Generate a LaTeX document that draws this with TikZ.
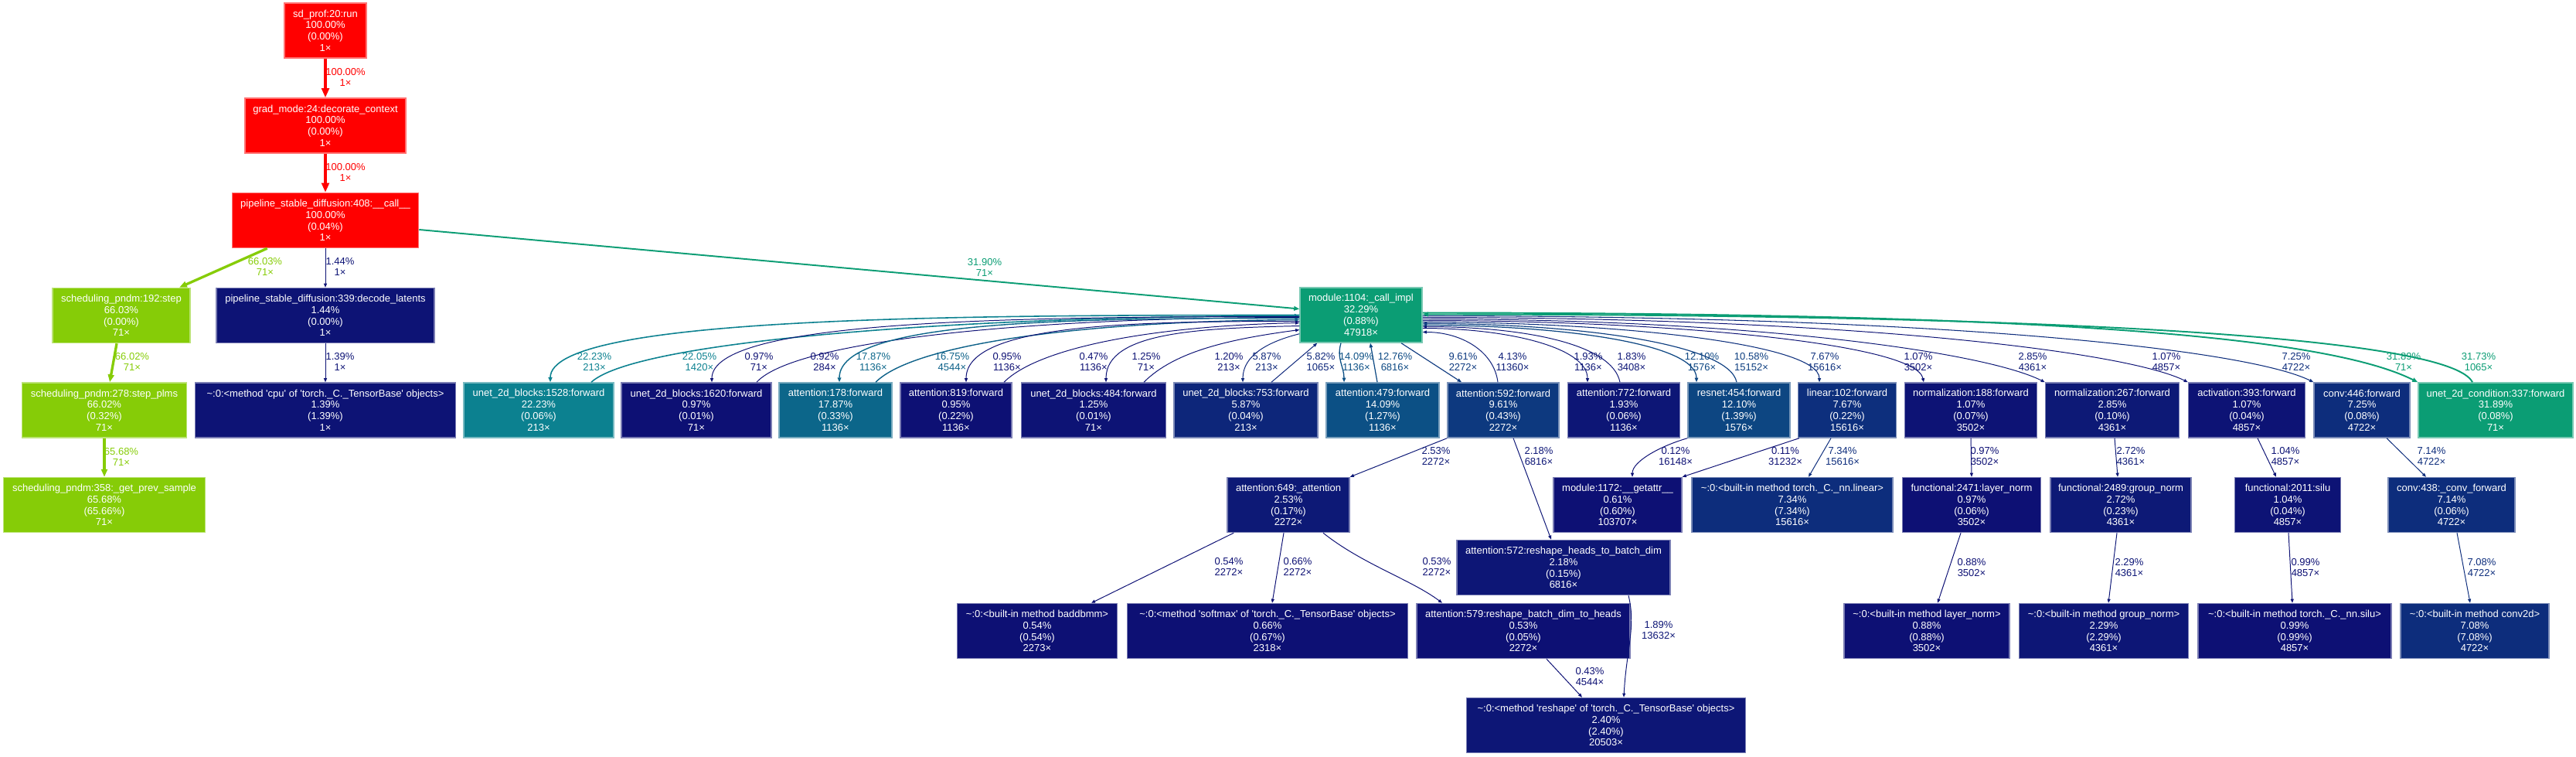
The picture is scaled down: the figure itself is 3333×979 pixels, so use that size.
\documentclass[tikz,border=0pt]{standalone}
\usepackage{fontspec}
\setmainfont{Liberation Sans}
\usetikzlibrary{arrows.meta,calc}

\definecolor{pct100}{HTML}{FF0000}
\definecolor{pct66}{HTML}{86CC07}
\definecolor{pct32}{HTML}{0B9D74}
\definecolor{pct22}{HTML}{0C8190}
\definecolor{pct18}{HTML}{0C668A}
\definecolor{pct17}{HTML}{0C6088}
\definecolor{pct14}{HTML}{0C5085}
\definecolor{pct13}{HTML}{0D4983}
\definecolor{pct12}{HTML}{0D4682}
\definecolor{pct11}{HTML}{0D3E80}
\definecolor{pct10}{HTML}{0D397F}
\definecolor{pct8}{HTML}{0D2F7D}
\definecolor{pct7}{HTML}{0D2D7C}
\definecolor{pct6}{HTML}{0D267A}
\definecolor{pct4}{HTML}{0D1E78}
\definecolor{pct3}{HTML}{0D1976}
\definecolor{pct2}{HTML}{0D1676}
\definecolor{pct1}{HTML}{0D1375}
\definecolor{pct0}{HTML}{0D1074}

\newcommand{\gfont}{\fontsize{3.7}{4.2}\selectfont}
\newcommand{\squote}{\textquotesingle}

\begin{document}
\begin{tikzpicture}[
  x=0.01cm, y=-0.01cm,
  fn/.style={
    fill=#1, draw=#1!55!white, line width=0.4pt,
    text=white, font=\gfont, align=center,
    minimum height=0.71cm, inner xsep=2pt, inner ysep=0pt},
  lbl/.style={text=#1, font=\gfont, align=center, inner sep=0pt},
  call/.style={draw=#1, line width=0.28pt,
    -{Triangle[length=0.9pt 2, width=0.7pt 1.6]}},
]
  \useasboundingbox (0,0) rectangle (3333,979);

  % left column
  \node[fn=pct100, minimum width=1.06cm] (sd) at (421,39.5) {sd\_prof:20:run\\100.00\%\\(0.00\%)\\1×};
  \node[fn=pct100, minimum width=2.08cm] (grad) at (421,162.5) {grad\_mode:24:decorate\_context\\100.00\%\\(0.00\%)\\1×};
  \node[fn=pct100, minimum width=2.41cm] (pipe) at (421,285) {pipeline\_stable\_diffusion:408:\_\_call\_\_\\100.00\%\\(0.04\%)\\1×};
  \node[fn=pct66, minimum width=1.78cm] (step) at (157,408) {scheduling\_pndm:192:step\\66.03\%\\(0.00\%)\\71×};
  \node[fn=pct1, minimum width=2.82cm] (decode) at (421,408) {pipeline\_stable\_diffusion:339:decode\_latents\\1.44\%\\(0.00\%)\\1×};
  \node[fn=pct66, minimum width=2.13cm] (plms) at (135,530.5) {scheduling\_pndm:278:step\_plms\\66.02\%\\(0.32\%)\\71×};
  \node[fn=pct1, minimum width=3.37cm] (cpu) at (421,530.5) {\textasciitilde:0:<method \squote cpu\squote{} of \squote torch.\_C.\_TensorBase\squote{} objects>\\1.39\%\\(1.39\%)\\1×};
  \node[fn=pct66, minimum width=2.61cm] (prev) at (135,653) {scheduling\_pndm:358:\_get\_prev\_sample\\65.68\%\\(65.66\%)\\71×};

  % hub
  \node[fn=pct32, minimum width=1.58cm] (module) at (1761,407.5) {module:1104:\_call\_impl\\32.29\%\\(0.88\%)\\47918×};

  % forward row
  \node[fn=pct22, minimum width=1.94cm] (u1528) at (697,530.5) {unet\_2d\_blocks:1528:forward\\22.23\%\\(0.06\%)\\213×};
  \node[fn=pct0, minimum width=1.94cm] (u1620) at (901,530.5) {unet\_2d\_blocks:1620:forward\\0.97\%\\(0.01\%)\\71×};
  \node[fn=pct18, minimum width=1.46cm] (a178) at (1081,530.5) {attention:178:forward\\17.87\%\\(0.33\%)\\1136×};
  \node[fn=pct0, minimum width=1.44cm] (a819) at (1237,530.5) {attention:819:forward\\0.95\%\\(0.22\%)\\1136×};
  \node[fn=pct1, minimum width=1.87cm] (u484) at (1415,530.5) {unet\_2d\_blocks:484:forward\\1.25\%\\(0.01\%)\\71×};
  \node[fn=pct6, minimum width=1.86cm] (u753) at (1612,530.5) {unet\_2d\_blocks:753:forward\\5.87\%\\(0.04\%)\\213×};
  \node[fn=pct14, minimum width=1.46cm] (a479) at (1789,530.5) {attention:479:forward\\14.09\%\\(1.27\%)\\1136×};
  \node[fn=pct10, minimum width=1.44cm] (a592) at (1945,530.5) {attention:592:forward\\9.61\%\\(0.43\%)\\2272×};
  \node[fn=pct2, minimum width=1.45cm] (a772) at (2101,530.5) {attention:772:forward\\1.93\%\\(0.06\%)\\1136×};
  \node[fn=pct12, minimum width=1.32cm] (res454) at (2250,530.5) {resnet:454:forward\\12.10\%\\(1.39\%)\\1576×};
  \node[fn=pct8, minimum width=1.27cm] (lin102) at (2390,530.5) {linear:102:forward\\7.67\%\\(0.22\%)\\15616×};
  \node[fn=pct1, minimum width=1.71cm] (nrm188) at (2550,530.5) {normalization:188:forward\\1.07\%\\(0.07\%)\\3502×};
  \node[fn=pct3, minimum width=1.73cm] (nrm267) at (2733,530.5) {normalization:267:forward\\2.85\%\\(0.10\%)\\4361×};
  \node[fn=pct1, minimum width=1.51cm] (act393) at (2907,530.5) {activation:393:forward\\1.07\%\\(0.04\%)\\4857×};
  \node[fn=pct7, minimum width=1.24cm] (cnv446) at (3056,530.5) {conv:446:forward\\7.25\%\\(0.08\%)\\4722×};
  \node[fn=pct32, minimum width=2.00cm] (ucond) at (3229,530.5) {unet\_2d\_condition:337:forward\\31.89\%\\(0.08\%)\\71×};

  % second row
  \node[fn=pct3, minimum width=1.58cm] (a649) at (1667,653) {attention:649:\_attention\\2.53\%\\(0.17\%)\\2272×};
  \node[fn=pct0, minimum width=1.66cm] (m1172) at (2093,653) {module:1172:\_\_getattr\_\_\\0.61\%\\(0.60\%)\\103707×};
  \node[fn=pct7, minimum width=2.60cm] (blin) at (2319,653) {\textasciitilde:0:<built-in method torch.\_C.\_nn.linear>\\7.34\%\\(7.34\%)\\15616×};
  \node[fn=pct0, minimum width=1.79cm] (f2471) at (2551,653) {functional:2471:layer\_norm\\0.97\%\\(0.06\%)\\3502×};
  \node[fn=pct3, minimum width=1.82cm] (f2489) at (2744,653) {functional:2489:group\_norm\\2.72\%\\(0.23\%)\\4361×};
  \node[fn=pct1, minimum width=1.37cm] (f2011) at (2960,653) {functional:2011:silu\\1.04\%\\(0.04\%)\\4857×};
  \node[fn=pct7, minimum width=1.64cm] (c438) at (3172,653) {conv:438:\_conv\_forward\\7.14\%\\(0.06\%)\\4722×};
  \node[fn=pct2, minimum width=2.76cm] (a572) at (2023,734) {attention:572:reshape\_heads\_to\_batch\_dim\\2.18\%\\(0.15\%)\\6816×};

  % leaves
  \node[fn=pct0, minimum width=2.07cm] (bmm) at (1342,816) {\textasciitilde:0:<built-in method baddbmm>\\0.54\%\\(0.54\%)\\2273×};
  \node[fn=pct0, minimum width=3.63cm] (smax) at (1640,816) {\textasciitilde:0:<method \squote softmax\squote{} of \squote torch.\_C.\_TensorBase\squote{} objects>\\0.66\%\\(0.67\%)\\2318×};
  \node[fn=pct0, minimum width=2.76cm] (a579) at (1971,816) {attention:579:reshape\_batch\_dim\_to\_heads\\0.53\%\\(0.05\%)\\2272×};
  \node[fn=pct0, minimum width=2.14cm] (lnorm) at (2493,816) {\textasciitilde:0:<built-in method layer\_norm>\\0.88\%\\(0.88\%)\\3502×};
  \node[fn=pct2, minimum width=2.19cm] (gnorm) at (2722,816) {\textasciitilde:0:<built-in method group\_norm>\\2.29\%\\(2.29\%)\\4361×};
  \node[fn=pct0, minimum width=2.50cm] (silu) at (2969,816) {\textasciitilde:0:<built-in method torch.\_C.\_nn.silu>\\0.99\%\\(0.99\%)\\4857×};
  \node[fn=pct7, minimum width=1.92cm] (conv2d) at (3202,816) {\textasciitilde:0:<built-in method conv2d>\\7.08\%\\(7.08\%)\\4722×};
  \node[fn=pct2, minimum width=3.61cm] (reshape) at (2078,938) {\textasciitilde:0:<method \squote reshape\squote{} of \squote torch.\_C.\_TensorBase\squote{} objects>\\2.40\%\\(2.40\%)\\20503×};

  % left column calls
  \draw[call=pct100, line width=1.28pt] (sd) -- (grad);
  \draw[call=pct100, line width=1.28pt] (grad) -- (pipe);
  \draw[call=pct66, line width=0.95pt] ($(pipe.south west)+(46,0)$) -- ($(step.north)+(75,0)$);
  \draw[call=pct1] (pipe) -- (decode);
  \draw[call=pct32, line width=0.55pt] ($(pipe.east)+(0,12)$) -- ($(module.west)+(0,-8)$);
  \draw[call=pct66, line width=0.95pt] ($(step.south)+(-6,0)$) -- ($(plms.north)+(7,0)$);
  \draw[call=pct66, line width=0.95pt] (plms) -- (prev);
  \draw[call=pct1] (decode) -- (cpu);

  % hub <-> left children
  \draw[call=pct22, line width=0.45pt] ($(module.west)+(0,0)$) .. controls +(-450,0) and +(0,-85) .. ($(u1528.north)+(15,0)$);
  \draw[call=pct22, line width=0.45pt] ($(u1528.north)+(68,0)$) .. controls +(60,-55) and +(-420,0) .. ($(module.west)+(0,1)$);
  \draw[call=pct0] ($(module.west)+(0,2)$) .. controls +(-380,0) and +(0,-80) .. ($(u1620.north)+(20,0)$);
  \draw[call=pct0] ($(u1620.north)+(78,0)$) .. controls +(50,-55) and +(-340,0) .. ($(module.west)+(0,3)$);
  \draw[call=pct18, line width=0.4pt] ($(module.west)+(0,4)$) .. controls +(-300,0) and +(0,-80) .. ($(a178.north)+(5,0)$);
  \draw[call=pct17, line width=0.4pt] ($(a178.north)+(52,0)$) .. controls +(50,-50) and +(-280,2) .. ($(module.west)+(0,6)$);
  \draw[call=pct0] ($(module.west)+(0,8)$) .. controls +(-220,0) and +(0,-75) .. ($(a819.north)+(13,0)$);
  \draw[call=pct0] ($(a819.north)+(62,0)$) .. controls +(45,-45) and +(-190,4) .. ($(module.west)+(0,10)$);
  \draw[call=pct1] ($(module.west)+(0,14)$) .. controls +(-130,3) and +(0,-65) .. ($(u484.north)+(16,0)$);
  \draw[call=pct1] ($(u484.north)+(65,0)$) .. controls +(40,-40) and +(-90,12) .. ($(module.west)+(0,19)$);
  \draw[call=pct6] ($(module.south west)+(0,-12)$) .. controls +(-40,10) and +(0,-35) .. ($(u753.north)+(-4,0)$);
  \draw[call=pct6] ($(u753.north)+(33,0)$) -- ($(module.south west)+(23,0)$);

  % hub <-> children below
  \draw[call=pct14, line width=0.37pt] ($(module.south)+(-26,0)$) .. controls +(-6,20) and +(0,-20) .. ($(a479.north)+(-50,0)$);
  \draw[call=pct13, line width=0.35pt] ($(a479.north)+(-7,0)$) -- ($(module.south)+(12,0)$);
  \draw[call=pct10, line width=0.32pt] ($(module.south)+(52,0)$) -- ($(a592.north)+(-54,0)$);
  \draw[call=pct4] ($(a592.north)+(-7,0)$) .. controls +(-5,-40) and +(50,0) .. ($(module.east)+(0,22)$);

  % hub <-> right children
  \draw[call=pct2] ($(module.east)+(0,17)$) .. controls +(110,0) and +(0,-45) .. ($(a772.north)+(-47,0)$);
  \draw[call=pct2] ($(a772.north)+(-5,0)$) .. controls +(-10,-50) and +(130,0) .. ($(module.east)+(0,15)$);
  \draw[call=pct12, line width=0.35pt] ($(module.east)+(0,13)$) .. controls +(180,0) and +(0,-50) .. ($(res454.north)+(-55,0)$);
  \draw[call=pct11, line width=0.33pt] ($(res454.north)+(-3,0)$) .. controls +(-10,-50) and +(200,0) .. ($(module.east)+(0,11)$);
  \draw[call=pct8, line width=0.3pt] ($(module.east)+(0,9)$) .. controls +(250,0) and +(0,-50) .. ($(lin102.north)+(-36,0)$);
  \draw[call=pct1] ($(module.east)+(0,7)$) .. controls +(320,0) and +(-10,-50) .. ($(nrm188.north)+(-61,0)$);
  \draw[call=pct3] ($(module.east)+(0,5)$) .. controls +(420,0) and +(-80,-40) .. (nrm267.north west);
  \draw[call=pct1] ($(module.east)+(0,3)$) .. controls +(550,0) and +(-80,-40) .. (act393.north west);
  \draw[call=pct7, line width=0.3pt] ($(module.east)+(0,1)$) .. controls +(700,0) and +(-80,-40) .. (cnv446.north west);
  \draw[call=pct32, line width=0.55pt] ($(module.east)+(0,-3)$) .. controls +(800,0) and +(-120,-60) .. (ucond.north west);
  \draw[call=pct32, line width=0.55pt] ($(ucond.north)+(-30,0)$) .. controls +(-30,-60) and +(800,0) .. ($(module.east)+(0,-1)$);

  % second level
  \draw[call=pct3] (a592.south west) -- (a649.north east);
  \draw[call=pct2] ($(a592.south)+(13,0)$) -- ($(a572.north)+(-16,0)$);
  \draw[call=pct0] (res454.south west) .. controls +(-35,10) and +(0,-20) .. ($(m1172.north)+(19,0)$);
  \draw[call=pct0] ($(lin102.south west)+(2,0)$) -- (m1172.north east);
  \draw[call=pct7] ($(lin102.south)+(-21,0)$) -- ($(blin.north)+(21,0)$);
  \draw[call=pct0] (nrm188.south) -- (f2471.north);
  \draw[call=pct3] ($(nrm267.south)+(3,0)$) -- ($(f2489.north)+(-4,0)$);
  \draw[call=pct1] ($(act393.south)+(14,0)$) -- ($(f2011.north)+(-15,0)$);
  \draw[call=pct7] ($(cnv446.south)+(32,0)$) -- ($(c438.north)+(-33,0)$);

  % leaves
  \draw[call=pct0] ($(a649.south west)+(9,0)$) -- ($(bmm.north)+(70,0)$);
  \draw[call=pct0] ($(a649.south)+(-6,0)$) -- ($(smax.north)+(6,0)$);
  \draw[call=pct0] ($(a649.south)+(45,0)$) .. controls +(50,40) and +(-40,-30) .. ($(a579.north)+(-105,0)$);
  \draw[call=pct2] ($(a572.south)+(84,0)$) .. controls +(10,40) and +(3,-60) .. ($(reshape.north)+(23,0)$);
  \draw[call=pct0] ($(a579.south)+(30,0)$) -- ($(reshape.north)+(-31,0)$);
  \draw[call=pct0] ($(f2471.south)+(-14,0)$) -- ($(lnorm.north)+(14,0)$);
  \draw[call=pct2] ($(f2489.south)+(-5,0)$) -- ($(gnorm.north)+(6,0)$);
  \draw[call=pct0] ($(f2011.south)+(1,0)$) -- ($(silu.north)+(-3,0)$);
  \draw[call=pct7] ($(c438.south)+(7,0)$) -- ($(conv2d.north)+(-6,0)$);

  % edge labels
  \foreach \nm/\lx/\ly/\cl/\tx in {
    e1/447/100/pct100/{100.00\%\\1×}, e2/447/223/pct100/{100.00\%\\1×},
    e3/343/345/pct66/{66.03\%\\71×}, e4/440/345/pct1/{1.44\%\\1×},
    e5/1274/346/pct32/{31.90\%\\71×}, e6/171/468/pct66/{66.02\%\\71×},
    e7/440/468/pct1/{1.39\%\\1×}, e8/157/591/pct66/{65.68\%\\71×},
    e9/769/468/pct22/{22.23\%\\213×}, e10/905/468/pct22/{22.05\%\\1420×},
    e11/982/468/pct0/{0.97\%\\71×}, e12/1067/468/pct0/{0.92\%\\284×},
    e13/1130/468/pct18/{17.87\%\\1136×}, e14/1232/468/pct17/{16.75\%\\4544×},
    e15/1303/468/pct0/{0.95\%\\1136×}, e16/1415/468/pct0/{0.47\%\\1136×},
    e17/1483/468/pct1/{1.25\%\\71×}, e18/1590/468/pct1/{1.20\%\\213×},
    e19/1639/468/pct6/{5.87\%\\213×}, e20/1709/468/pct6/{5.82\%\\1065×},
    e21/1755/468/pct14/{14.09\%\\1136×}, e22/1805/468/pct13/{12.76\%\\6816×},
    e23/1893/468/pct10/{9.61\%\\2272×}, e24/1957/468/pct4/{4.13\%\\11360×},
    e25/2055/468/pct2/{1.93\%\\1136×}, e26/2111/468/pct2/{1.83\%\\3408×},
    e27/2202/468/pct12/{12.10\%\\1576×}, e28/2266/468/pct11/{10.58\%\\15152×},
    e29/2361/468/pct8/{7.67\%\\15616×}, e30/2482/468/pct1/{1.07\%\\3502×},
    e31/2630/468/pct3/{2.85\%\\4361×}, e32/2803/468/pct1/{1.07\%\\4857×},
    e33/2971/468/pct7/{7.25\%\\4722×}, e34/3110/468/pct32/{31.89\%\\71×},
    e35/3207/468/pct32/{31.73\%\\1065×}, e36/1858/590/pct3/{2.53\%\\2272×},
    e37/1991/590/pct2/{2.18\%\\6816×}, e38/2168/590/pct0/{0.12\%\\16148×},
    e39/2310/590/pct0/{0.11\%\\31232×}, e40/2384/590/pct7/{7.34\%\\15616×},
    e41/2568/590/pct0/{0.97\%\\3502×}, e42/2757/590/pct3/{2.72\%\\4361×},
    e43/2957/590/pct1/{1.04\%\\4857×}, e44/3146/590/pct7/{7.14\%\\4722×},
    e45/1590/733/pct0/{0.54\%\\2272×}, e46/1679/733/pct0/{0.66\%\\2272×},
    e47/1859/733/pct0/{0.53\%\\2272×}, e48/2146/815/pct2/{1.89\%\\13632×},
    e49/2057/875/pct0/{0.43\%\\4544×}, e50/2551/734/pct0/{0.88\%\\3502×},
    e51/2755/734/pct2/{2.29\%\\4361×}, e52/2983/734/pct0/{0.99\%\\4857×},
    e53/3211/734/pct7/{7.08\%\\4722×}}{
    \node[lbl=\cl] (\nm) at (\lx,\ly) {\tx};
  }
\end{tikzpicture}
\end{document}
